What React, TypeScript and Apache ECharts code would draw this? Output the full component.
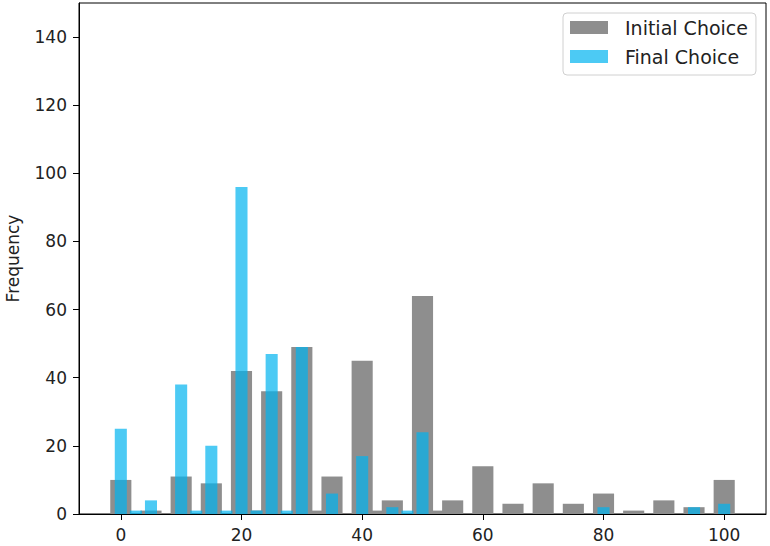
import React, { useEffect, useRef } from "react";
import * as echarts from "echarts";

// Initial choice histogram (gray)
const initialPositions = [0, 5, 10, 15, 20, 22.5, 25, 30, 32.5, 35, 40, 42.5, 45, 50, 52.5, 55, 60, 65, 70, 75, 80, 85, 90, 95, 100];
const initialCounts = [10, 1, 11, 9, 42, 1, 36, 49, 1, 11, 45, 1, 4, 64, 1, 4, 14, 3, 9, 3, 6, 1, 4, 2, 10];

// Final choice histogram (blue)
const finalPositions = [0, 2.5, 5, 10, 12.5, 15, 17.5, 20, 22.5, 25, 27.5, 30, 35, 40, 45, 47.5, 50, 80, 95, 100];
const finalCounts = [25, 1, 4, 38, 1, 20, 1, 96, 1, 47, 1, 49, 6, 17, 2, 1, 24, 2, 2, 3];

const xTicks = [0, 20, 40, 60, 80, 100];
const yTicks = [0, 20, 40, 60, 80, 100, 120, 140];

const GRAY = "#8e8e8e";
const BLUE = "rgba(0,180,240,0.7)";
const FONT = "DejaVu Sans";

function makeRender(color: string, wideW: number, narrowW: number) {
  return (params: any, api: any) => {
    const x = api.value(0);
    const y = api.value(1);
    const w = x % 5 === 0 ? wideW : narrowW;
    const p0 = api.coord([x - w / 2, y]);
    const p1 = api.coord([x + w / 2, 0]);
    return {
      type: "rect",
      shape: { x: p0[0], y: p0[1], width: p1[0] - p0[0], height: p1[1] - p0[1] },
      style: { fill: color },
    };
  };
}

export default function App() {
  const ref = useRef<HTMLDivElement>(null);
  useEffect(() => {
    if (!ref.current) return;
    const chart = echarts.init(ref.current, undefined, { renderer: "svg" });
    chart.setOption({
      animation: false,
      grid: {
        left: 79,
        right: 4,
        top: 3,
        bottom: 32,
        show: true,
        borderColor: "#000",
        borderWidth: 1,
        backgroundColor: "transparent",
        outerBoundsMode: "none",
        containLabel: false,
      },
      legend: {
        orient: "vertical",
        left: 563,
        top: 13,
        padding: [5, 8, 9, 7],
        itemGap: 10,
        itemWidth: 38,
        itemHeight: 13,
        icon: "rect",
        borderColor: "#d0d0d0",
        borderWidth: 1,
        borderRadius: 4,
        backgroundColor: "rgba(255,255,255,0.8)",
        textStyle: { fontFamily: FONT, fontSize: 19, color: "#222", padding: [0, 0, 0, 12] },
        data: ["Initial Choice", "Final Choice"],
      },
      xAxis: {
        type: "value",
        min: -6.93,
        max: 106.93,
        splitLine: { show: false },
        axisLine: { show: true, onZero: false, lineStyle: { color: "#000", width: 1 } },
        axisTick: { show: true, length: 6, lineStyle: { color: "#000" }, customValues: xTicks },
        axisLabel: { fontFamily: FONT, fontSize: 17, color: "#222", margin: 12, customValues: xTicks },
      },
      yAxis: {
        type: "value",
        min: 0,
        max: 150,
        name: "Frequency",
        nameLocation: "middle",
        nameGap: 58,
        nameTextStyle: { fontFamily: FONT, fontSize: 17, color: "#222" },
        splitLine: { show: false },
        axisLine: { show: true, onZero: false, lineStyle: { color: "#000", width: 1 } },
        axisTick: { show: true, length: 6, lineStyle: { color: "#000" }, customValues: yTicks },
        axisLabel: { fontFamily: FONT, fontSize: 17, color: "#222", margin: 12, customValues: yTicks },
      },
      series: [
        {
          name: "Initial Choice",
          type: "custom",
          itemStyle: { color: GRAY },
          encode: { x: 0, y: 1 },
          renderItem: makeRender(GRAY, 3.5, 2.5),
          data: initialPositions.map((p, i) => [p, initialCounts[i]]),
        },
        {
          name: "Final Choice",
          type: "custom",
          itemStyle: { color: BLUE },
          encode: { x: 0, y: 1 },
          renderItem: makeRender(BLUE, 2, 2),
          data: finalPositions.map((p, i) => [p, finalCounts[i]]),
        },
      ],
    });
    return () => chart.dispose();
  }, []);
  return <div ref={ref} style={{ width: 770, height: 546, position: "absolute", left: 0, top: 0 }} />;
}
